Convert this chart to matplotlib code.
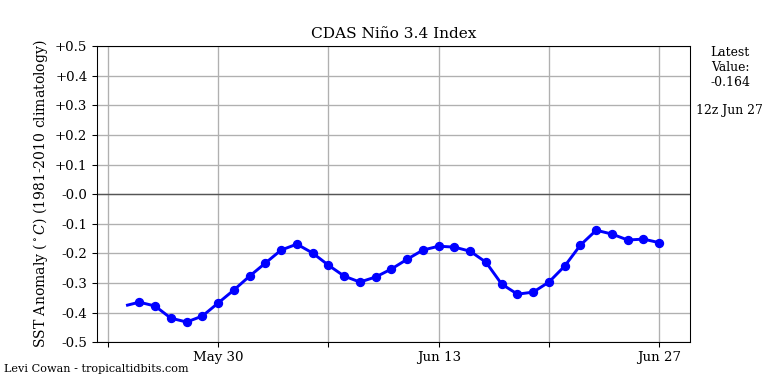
import matplotlib
matplotlib.use("Agg")
import matplotlib.pyplot as plt
import datetime as dt

plt.rcParams['font.family'] = ['DejaVu Serif']
plt.rcParams['mathtext.fontset'] = 'dejavuserif'

# Data: daily 12z values (May 25 - Jun 27), plus line start point
start_date = dt.datetime(2024, 5, 24, 6)
start_value = -0.375
dates = [dt.datetime(2024, 5, 25) + dt.timedelta(days=i) for i in range(34)]
values = [-0.365, -0.378, -0.419, -0.432, -0.412, -0.368, -0.324, -0.277, -0.233,
          -0.189, -0.169, -0.199, -0.240, -0.277, -0.297, -0.280, -0.253, -0.220,
          -0.189, -0.176, -0.179, -0.193, -0.230, -0.304, -0.338, -0.331, -0.297,
          -0.243, -0.172, -0.122, -0.135, -0.155, -0.152, -0.164]
ytick_vals = [0.5, 0.4, 0.3, 0.2, 0.1, 0.0, -0.1, -0.2, -0.3, -0.4, -0.5]
ytick_labels = ['+0.5', '+0.4', '+0.3', '+0.2', '+0.1', '-0.0', '-0.1', '-0.2', '-0.3', '-0.4', '-0.5']
xtick_dates = [dt.datetime(2024, 5, 23) + dt.timedelta(days=7 * i) for i in range(6)]
xtick_labels = ['', 'May 30', '', 'Jun 13', '', 'Jun 27']

fig = plt.figure(figsize=(8, 4), dpi=96)
ax = fig.add_axes([0.126, 0.109, 0.772, 0.771])

ax.plot([start_date] + dates, [start_value] + values, color='blue', lw=2.2, zorder=3)
ax.plot(dates, values, 'o', color='blue', ms=6, zorder=4)
ax.axhline(0, color='#555555', lw=1, zorder=2)

ax.set_ylim(-0.5, 0.5)
ax.set_yticks(ytick_vals)
ax.set_yticklabels(ytick_labels)
ax.set_xlim(dt.datetime(2024, 5, 23) - dt.timedelta(days=0.7),
            dt.datetime(2024, 5, 23) + dt.timedelta(days=36.93))
ax.set_xticks(xtick_dates)
ax.set_xticklabels(xtick_labels)
ax.tick_params(labelsize=10)
ax.grid(True, color='#b0b0b0', lw=1)
ax.set_axisbelow(True)

ax.set_title('CDAS Niño 3.4 Index', fontsize=11.5)
ax.set_ylabel(r'SST Anomaly ($^\circ C$) (1981-2010 climatology)', fontsize=10.5)

fig.text(0.951, 0.88, 'Latest\nValue:\n' + '%.3f' % values[-1], ha='center', va='top', fontsize=9.3)
fig.text(0.950, 0.711, '12z Jun 27', ha='center', va='center', fontsize=9.3)
fig.text(0.005, 0.038, 'Levi Cowan - tropicaltidbits.com', ha='left', va='center', fontsize=8.4)

fig.savefig('out.png', dpi=96)
